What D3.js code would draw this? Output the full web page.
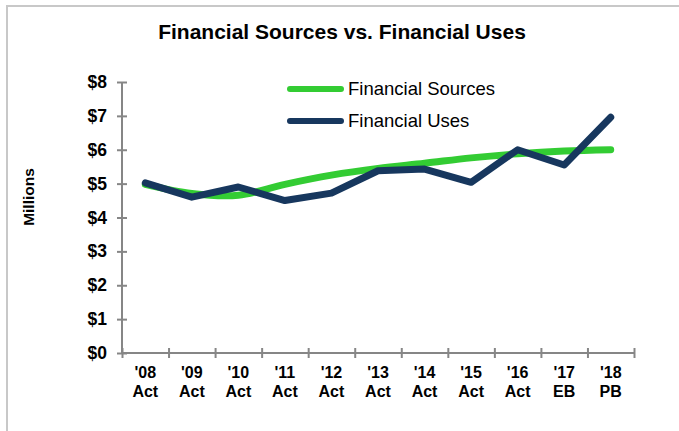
<!DOCTYPE html>
<html>
<head>
<meta charset="utf-8">
<script src="https://cdn.jsdelivr.net/npm/d3@7"></script>
<style>
  body { margin: 0; background: #fff; }
  svg text { font-family: "Liberation Sans", Arial, sans-serif; }
</style>
</head>
<body>
<div id="graph"></div>
<script>
/*
    Data
*/
var years = ["'08", "'09", "'10", "'11", "'12", "'13", "'14", "'15", "'16", "'17", "'18"]
var kinds = ["Act", "Act", "Act", "Act", "Act", "Act", "Act", "Act", "Act", "EB", "PB"]
var sources = [4.98, 4.71, 4.66, 4.98, 5.25, 5.45, 5.6, 5.76, 5.88, 5.96, 6.0]
var uses = [5.02, 4.6, 4.9, 4.5, 4.72, 5.38, 5.43, 5.04, 6.0, 5.55, 6.96]
var yTicks = [0, 1, 2, 3, 4, 5, 6, 7, 8]

/*
    Set the dimensions
*/
var W = 679, H = 431
var plot = {left: 122, right: 634, top: 82, bottom: 353}

var svg = d3.select("#graph").append("svg")
    .attr("width", W)
    .attr("height", H)

// outer frame (only top and left visible)
svg.append("rect")
    .attr("x", 7).attr("y", 6)
    .attr("width", W + 20).attr("height", H + 20)
    .attr("fill", "none")
    .attr("stroke", "#c8c8c8")
    .attr("stroke-width", 2)

/*
    Scales
*/
var x = d3.scaleBand()
    .domain(years)
    .range([plot.left, plot.right])
    .paddingInner(0)
var xEdge = d3.scaleLinear()
    .domain([0, years.length])
    .range([plot.left, plot.right])
var y = d3.scaleLinear()
    .domain([0, 8])
    .range([plot.bottom, plot.top])

/*
    Axes
*/
var yAxis = svg.append("g")
    .attr("transform", "translate(" + plot.left + ",0)")
    .call(d3.axisLeft(y)
        .tickValues(yTicks)
        .tickSize(5)
        .tickPadding(10)
        .tickFormat(function(d) { return "$" + d }))
yAxis.select(".domain").remove()
yAxis.selectAll(".tick line")
    .attr("x1", -5).attr("x2", 5)
    .attr("stroke", "#868686").attr("stroke-width", 2)
yAxis.selectAll(".tick text")
    .attr("fill", "#000")
    .style("font-size", "17.5px")
    .style("font-weight", "bold")
yAxis.append("line")
    .attr("x1", 0).attr("x2", 0)
    .attr("y1", plot.top).attr("y2", plot.bottom)
    .attr("stroke", "#868686").attr("stroke-width", 2)

var xAxis = svg.append("g")
    .attr("transform", "translate(0," + plot.bottom + ")")
    .call(d3.axisBottom(xEdge)
        .tickValues(d3.range(years.length + 1))
        .tickSize(5)
        .tickFormat(""))
xAxis.select(".domain").remove()
xAxis.selectAll(".tick line")
    .attr("y1", -5).attr("y2", 5)
    .attr("stroke", "#868686").attr("stroke-width", 2)
xAxis.append("line")
    .attr("x1", plot.left).attr("x2", plot.right)
    .attr("stroke", "#868686").attr("stroke-width", 2)

var xLabels = svg.append("g").selectAll("text")
    .data(years)
    .enter().append("text")
    .attr("x", function(d) { return x(d) + x.bandwidth() / 2 })
    .attr("text-anchor", "middle")
    .style("font-size", "16px")
    .style("font-weight", "bold")
xLabels.append("tspan")
    .attr("x", function(d) { return x(d) + x.bandwidth() / 2 })
    .attr("y", 378)
    .text(function(d) { return d })
xLabels.append("tspan")
    .attr("x", function(d) { return x(d) + x.bandwidth() / 2 })
    .attr("y", 397)
    .text(function(d, i) { return kinds[i] })

svg.append("text")
    .attr("transform", "translate(34,197) rotate(-90)")
    .attr("text-anchor", "middle")
    .style("font-size", "15.5px")
    .style("font-weight", "bold")
    .text("Millions")

/*
    Lines
*/
var cx = function(d, i) { return x(years[i]) + x.bandwidth() / 2 }

var lineSrc = d3.line()
    .x(cx)
    .y(function(d) { return y(d) })
    .curve(d3.curveCatmullRom)

var lineUse = d3.line()
    .x(cx)
    .y(function(d) { return y(d) })

svg.append("path")
    .attr("d", lineSrc(sources))
    .attr("fill", "none")
    .attr("stroke", "#33cc33")
    .attr("stroke-width", 7)
    .attr("stroke-linecap", "round")
    .attr("stroke-linejoin", "round")

svg.append("path")
    .attr("d", lineUse(uses))
    .attr("fill", "none")
    .attr("stroke", "#17375e")
    .attr("stroke-width", 7)
    .attr("stroke-linecap", "round")
    .attr("stroke-linejoin", "round")

/*
    Title and legend
*/
svg.append("text")
    .attr("x", 342)
    .attr("y", 39)
    .attr("text-anchor", "middle")
    .style("font-size", "21px")
    .style("font-weight", "bold")
    .text("Financial Sources vs. Financial Uses")

var legend = [
    {name: "Financial Sources", color: "#33cc33", y: 89},
    {name: "Financial Uses", color: "#17375e", y: 121}
]
var lg = svg.append("g").selectAll("g")
    .data(legend)
    .enter().append("g")
lg.append("line")
    .attr("x1", 290).attr("x2", 341)
    .attr("y1", function(d) { return d.y })
    .attr("y2", function(d) { return d.y })
    .attr("stroke", function(d) { return d.color })
    .attr("stroke-width", 6)
    .attr("stroke-linecap", "round")
lg.append("text")
    .attr("x", 348)
    .attr("y", function(d) { return d.y + 6 })
    .style("font-size", "18.5px")
    .text(function(d) { return d.name })
</script>
</body>
</html>
